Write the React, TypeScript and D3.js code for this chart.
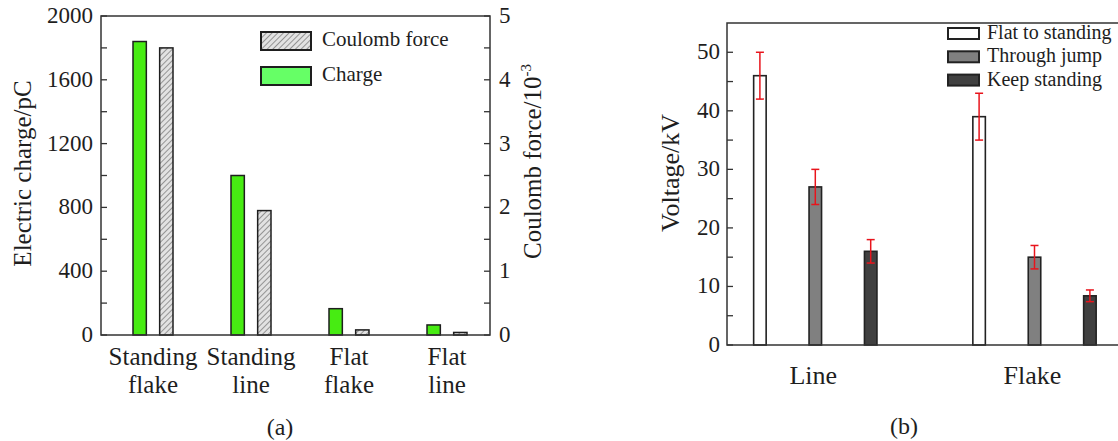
import React from 'react';
import * as d3 from 'd3';

// (a) charge / coulomb force per state
const categoriesA = ['Standing flake', 'Standing line', 'Flat flake', 'Flat line'];
const categoryLinesA = [['Standing', 'flake'], ['Standing', 'line'], ['Flat', 'flake'], ['Flat', 'line']];
const chargeA = [1840, 1000, 165, 63];
const emptyA = [0, 0, 0, 0];
const forceA = [4.5, 1.95, 0.08, 0.04];
const chargeTicks = [0, 400, 800, 1200, 1600, 2000];
const forceTicks = [0, 1, 2, 3, 4, 5];

// (b) voltage per shape
const categoriesB = ['Line', 'Flake'];
const seriesB = ['Flat to standing', 'Through jump', 'Keep standing'];
const flatToStanding = [46, 39];
const flatToStandingErr = [4, 4];
const throughJump = [27, 15];
const throughJumpErr = [3, 2];
const keepStanding = [16, 8.4];
const keepStandingErr = [2, 1];
const voltageTicks = [0, 10, 20, 30, 40, 50];

const INK = '#1e1e1e';
const txt = (size: number) => ({ fontFamily: 'Liberation Serif', fontSize: size, fill: INK });

// chart (a) geometry
const a = { left: 101, right: 490, top: 16, bottom: 335 };
const yL = d3.scaleLinear().domain([0, 2000]).range([a.bottom, a.top]);
const yR = d3.scaleLinear().domain([0, 5]).range([a.bottom, a.top]);
const x0 = d3.scaleBand().domain(categoriesA).range([104, 496]);
const x1 = d3.scaleBand().domain(['charge', 'empty', 'force']).range([-20, 20]);
const midA = (c: string) => (x0(c) as number) + x0.bandwidth() / 2;

// chart (b) geometry
const b = { left: 727, top: 23, bottom: 345 };
const yB = d3.scaleLinear().domain([0, 55]).range([b.bottom, b.top]);
const xB = d3.scaleBand().domain(categoriesB).range([705.7, 1144.1]);
const xS = d3.scalePoint().domain(seriesB).range([-55.4, 55.4]);
const barW = 12.5;
const fillsB = ['#ffffff', '#808080', '#404040'];
const valuesB = [flatToStanding, throughJump, keepStanding];
const errsB = [flatToStandingErr, throughJumpErr, keepStandingErr];
const tableB = categoriesB.flatMap((c, i) => seriesB.map((s, k) => ({
    c, s, v: valuesB[k][i], e: errsB[k][i], fill: fillsB[k],
    cx: (xB(c) as number) + xB.bandwidth() / 2 + (xS(s) as number),
})));

const ChartA = () => (
    <g>
        {categoriesA.map((c, i) => (
            <g key={c} transform={`translate(${midA(c)},0)`}>
                <rect x={x1('empty')} y={yL(emptyA[i])} width={x1.bandwidth()} height={0}
                    fill="none" stroke={INK} strokeWidth={1.2} />
                <rect x={x1('charge')} y={yL(chargeA[i])} width={x1.bandwidth()}
                    height={yL(0) - yL(chargeA[i])} fill="#47ec12" stroke={INK} strokeWidth={1.5} />
                <rect x={x1('force')} y={yR(forceA[i])} width={x1.bandwidth()}
                    height={yR(0) - yR(forceA[i])} fill="url(#hatch)" stroke={INK} strokeWidth={1.5} />
            </g>
        ))}
        <rect x={a.left} y={a.top} width={a.right - a.left} height={a.bottom - a.top}
            fill="none" stroke="#333" strokeWidth={1.5} />
        {d3.range(0, 2001, 200).map(v => (
            <line key={`l${v}`} x1={a.left} x2={a.left + 6} y1={yL(v)} y2={yL(v)} stroke="#333" strokeWidth={1.3} />
        ))}
        {d3.range(0, 5.01, 0.5).map(v => (
            <line key={`r${v}`} x1={a.right} x2={a.right - 6} y1={yR(v)} y2={yR(v)} stroke="#333" strokeWidth={1.3} />
        ))}
        {chargeTicks.map(v => (
            <text key={`lt${v}`} x={a.left - 8} y={yL(v) + 7} textAnchor="end" style={txt(23)}>{v}</text>
        ))}
        {forceTicks.map(v => (
            <text key={`rt${v}`} x={a.right + 9} y={yR(v) + 7} style={txt(23)}>{v}</text>
        ))}
        {categoriesA.map((c, i) => categoryLinesA[i].map((t, j) => (
            <text key={`${c}${j}`} x={midA(c)} y={365 + j * 28} textAnchor="middle" style={txt(25)}>{t}</text>
        )))}
        <text transform={`translate(31,${(a.top + a.bottom) / 2 - 2}) rotate(-90)`} textAnchor="middle"
            style={txt(25)}>Electric charge/pC</text>
        <text transform={`translate(541,${(a.top + a.bottom) / 2 - 14}) rotate(-90)`} textAnchor="middle"
            style={txt(25)}>
            Coulomb force/10<tspan dy={-10} style={{ fontSize: 15 }}>-3</tspan>
        </text>
        {[{ label: 'Coulomb force', fill: 'url(#hatch)' }, { label: 'Charge', fill: '#66ff66' }].map((d, i) => (
            <g key={d.label} transform={`translate(261,${32 + i * 35})`}>
                <rect width={50} height={18} fill={d.fill} stroke={INK} strokeWidth={2} />
                <text x={61} y={14} style={txt(21)}>{d.label}</text>
            </g>
        ))}
        <text x={280} y={435} textAnchor="middle" style={txt(24)}>(a)</text>
    </g>
);

const ChartB = () => (
    <g>
        {tableB.map(d => (
            <rect key={`${d.c}${d.s}`} x={d.cx - barW / 2} y={yB(d.v)} width={barW} height={yB(0) - yB(d.v)}
                fill={d.fill} stroke="#222" strokeWidth={1.6} />
        ))}
        {tableB.map(d => (
            <g key={`e${d.c}${d.s}`} stroke="#e8141c" strokeWidth={1.5}>
                <line x1={d.cx} x2={d.cx} y1={yB(d.v + d.e)} y2={yB(d.v - d.e)} />
                <line x1={d.cx - 4} x2={d.cx + 4} y1={yB(d.v + d.e)} y2={yB(d.v + d.e)} />
                <line x1={d.cx - 4} x2={d.cx + 4} y1={yB(d.v - d.e)} y2={yB(d.v - d.e)} />
            </g>
        ))}
        <path d={`M1125,${b.top}H${b.left}V${b.bottom}H1125`} fill="none" stroke="#333" strokeWidth={1.5} />
        {d3.range(0, 51, 5).map(v => (
            <line key={v} x1={b.left} x2={b.left + 6} y1={yB(v)} y2={yB(v)} stroke="#333" strokeWidth={1.3} />
        ))}
        {voltageTicks.map(v => (
            <text key={`t${v}`} x={720} y={yB(v) + 7} textAnchor="end" style={txt(23)}>{v}</text>
        ))}
        <text transform="translate(679,173) rotate(-90)" textAnchor="middle" style={txt(26)}>Voltage/kV</text>
        {categoriesB.map(c => (
            <text key={c} x={(xB(c) as number) + xB.bandwidth() / 2 - 2} y={384} textAnchor="middle"
                style={txt(26)}>{c}</text>
        ))}
        {seriesB.map((s, i) => (
            <g key={s} transform={`translate(948,${28 + i * 23.3})`}>
                <rect width={31} height={11} fill={fillsB[i]} stroke="#222" strokeWidth={2} />
                <text x={39} y={11} style={txt(20)}>{s}</text>
            </g>
        ))}
        <text x={904} y={434} textAnchor="middle" style={txt(24)}>(b)</text>
    </g>
);

const App = () => (
    <svg width={1118} height={441} style={{ position: 'absolute', left: 0, top: 0, background: '#fff' }}>
        <defs>
            <pattern id="hatch" patternUnits="userSpaceOnUse" width={4} height={4} patternTransform="rotate(45)">
                <rect width={4} height={4} fill="#e2e2e2" />
                <line x1={0} y1={0} x2={0} y2={4} stroke="#6a6a6a" strokeWidth={1.3} />
            </pattern>
        </defs>
        <ChartA />
        <ChartB />
    </svg>
);

export default App;
